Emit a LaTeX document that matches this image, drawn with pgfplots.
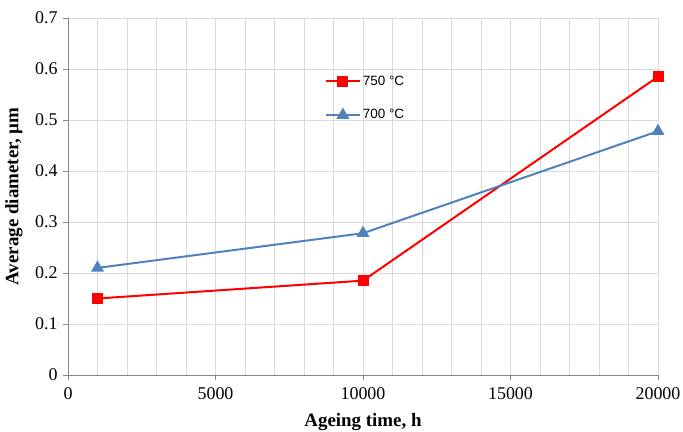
\documentclass[border=0pt]{standalone}
\usepackage{pgfplots}
\pgfplotsset{compat=1.18}
\usepackage{fontspec}
\setmainfont{Liberation Serif}
\newfontfamily\legfont{Liberation Sans}
\definecolor{myred}{RGB}{255,0,0}
\definecolor{myblue}{RGB}{79,129,189}
\definecolor{axgray}{RGB}{134,134,134}
\definecolor{grgray}{RGB}{217,217,217}
\begin{document}
\begin{tikzpicture}[x=1bp,y=1bp]
\path[use as bounding box] (-68bp,-57bp) rectangle (615bp,375bp);
\begin{axis}[
  scale only axis,
  width=590bp, height=357bp,
  xmin=0, xmax=20000, ymin=0, ymax=0.7,
  xtick={0,5000,10000,15000,20000},
  minor xtick={1000,2000,...,19000},
  ytick={0,0.1,...,0.7},
  scaled ticks=false,
  yticklabel style={/pgf/number format/fixed,/pgf/number format/precision=1},
  xticklabel style={/pgf/number format/fixed,/pgf/number format/1000 sep={}, yshift=-4bp},
  yticklabel style={xshift=-2bp},
  /pgf/number format/assume math mode=true,
  grid=both,
  major grid style={grgray, line width=1pt},
  minor grid style={grgray, line width=1pt},
  axis x line*=bottom, axis y line*=left,
  axis line style={axgray, line width=1pt, -},
  tick style={axgray, line width=1pt},
  tick align=outside,
  major tick length=5bp,
  minor tick length=0pt,
  ticklabel style={font=\fontsize{18}{21}\selectfont, text=black},
  xlabel={\textbf{Ageing time, h}},
  ylabel={\textbf{Average diameter, \textmu m}},
  label style={font=\fontsize{19}{22}\selectfont},
  xlabel style={at={(0.5,0)}, anchor=center, yshift=-47bp},
  ylabel style={at={(0,0.5)}, anchor=center, yshift=54bp},
  legend style={draw=none, fill=none, at={(0.43,0.85)}, anchor=north west,
    font=\legfont\fontsize{13.5}{16}\selectfont, row sep=19bp},
  legend cell align=left,
  legend image code/.code={\draw[#1] (0bp,0bp) -- (34bp,0bp); \draw[#1, mark repeat=2, mark phase=2] plot coordinates {(0bp,0bp) (17bp,0bp) (34bp,0bp)};},
  clip=false,
]
\addplot[myred, line width=2bp, mark=square*, mark size=4.5bp, mark options={solid}] coordinates {(1000,0.150) (10000,0.185) (20000,0.585)};
\addlegendentry{750 °C}
\addplot[myblue, line width=2bp, mark=triangle*, mark size=5.5bp, mark options={solid}] coordinates {(1000,0.210) (10000,0.278) (20000,0.478)};
\addlegendentry{700 °C}
\end{axis}
\end{tikzpicture}
\end{document}
